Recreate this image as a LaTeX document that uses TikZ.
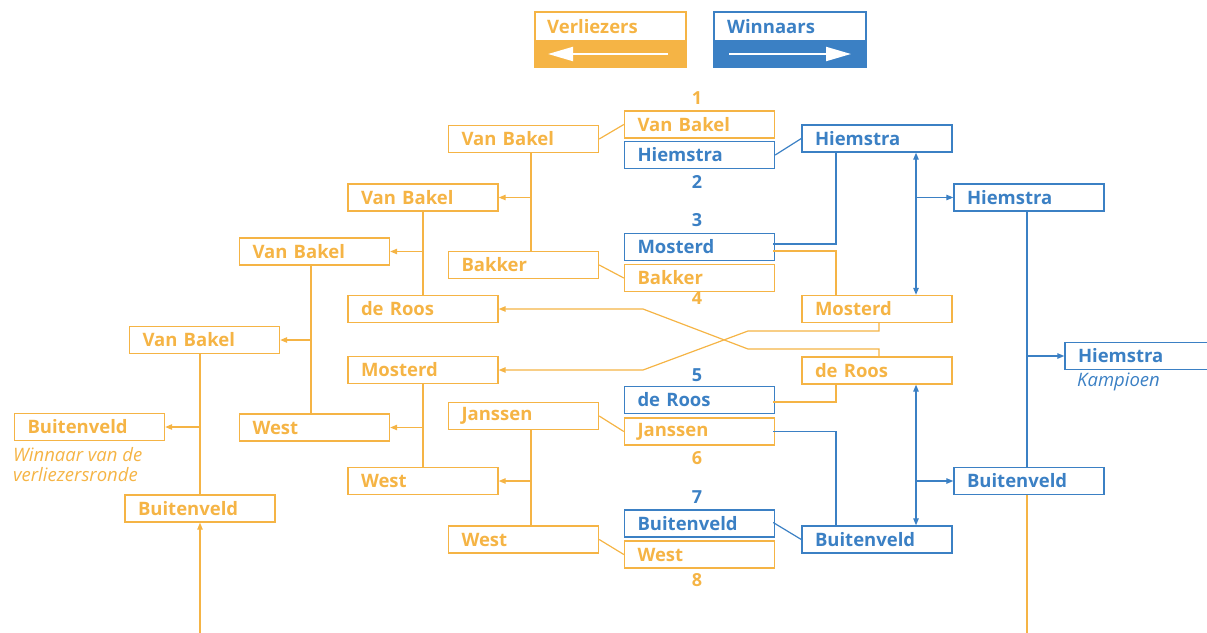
\documentclass[tikz,border=0pt]{standalone}
\usepackage{fontspec}
\setmainfont{Open Sans}
\usetikzlibrary{arrows.meta,calc}
\definecolor{lose}{HTML}{F5B445}
\definecolor{win}{HTML}{3B80C4}
\begin{document}
\begin{tikzpicture}[x=1pt,y=-1pt,
  box/.style={draw, line width=1.4pt, minimum height=27pt, text width=124pt,
    inner xsep=13pt, inner ysep=0pt, align=left,
    font=\fontsize{18.5}{21}\selectfont\bfseries},
  lbox/.style={box, draw=lose, text=lose},
  wbox/.style={box, draw=win, text=win},
  lline/.style={draw=lose, line width=1.2pt},
  wline/.style={draw=win, line width=1.2pt},
  tip/.style={-{Triangle[length=7pt,width=5.5pt]}},
  twotips/.style={{Triangle[length=7pt,width=5.5pt]}-{Triangle[length=7pt,width=5.5pt]}},
  lnum/.style={text=lose, font=\fontsize{18}{20}\selectfont\bfseries, inner sep=0pt},
  wnum/.style={text=win, font=\fontsize{18}{20}\selectfont\bfseries, inner sep=0pt},
  legtext/.style={anchor=west, inner sep=0pt, font=\fontsize{18.5}{21}\selectfont\bfseries},
  note/.style={anchor=west, align=left, inner sep=0pt, font=\fontsize{18.5}{20}\selectfont\itshape}
]
\useasboundingbox (0,0) rectangle (1207,632);

% legend
\node[draw=lose, line width=1.4pt, minimum width=151pt, minimum height=55pt, inner sep=0pt] (legL) at (610.5,39.5) {};
\fill[lose] (legL.west) rectangle (legL.south east);
\draw[lose, line width=1.4pt] (legL.north west) rectangle (legL.south east);
\node[legtext, text=lose] (legLt) at (547,27) {Verliezers};
\draw[white, line width=2pt, -{Triangle[length=25pt,width=14pt]}] (668,54) -- (548,54);

\node[draw=win, line width=1.4pt, minimum width=151pt, minimum height=55pt, inner sep=0pt] (legW) at (790,39.5) {};
\fill[win] (legW.west) rectangle (legW.south east);
\draw[win, line width=1.4pt] (legW.north west) rectangle (legW.south east);
\node[legtext, text=win] (legWt) at (727,27) {Winnaars};
\draw[white, line width=2pt, -{Triangle[length=25pt,width=14pt]}] (729,54) -- (851,54);

% first round
\node[lnum] (n1) at (697,98) {1};
\node[lbox] (cVB) at (699.5,124.5) {Van Bakel};
\node[wbox] (cHi) at (699.5,155) {Hiemstra};
\node[wnum] (n2) at (697,182) {2};
\node[wnum] (n3) at (697,220) {3};
\node[wbox] (cMo) at (699.5,247) {Mosterd};
\node[lbox] (cBa) at (699.5,278) {Bakker};
\node[lnum] (n4) at (697,298) {4};
\node[wnum] (n5) at (697,375) {5};
\node[wbox] (cdR) at (699.5,400) {de Roos};
\node[lbox] (cJa) at (699.5,431.5) {Janssen};
\node[lnum] (n6) at (697,458) {6};
\node[wnum] (n7) at (697,497) {7};
\node[wbox] (cBu) at (699.5,523.5) {Buitenveld};
\node[lbox] (cWe) at (699.5,554.5) {West};
\node[lnum] (n8) at (697,580) {8};

% losers bracket
\node[lbox] (l1VB) at (523.5,139) {Van Bakel};
\node[lbox] (l1Ba) at (523.5,265) {Bakker};
\node[lbox] (l1Ja) at (523.5,416) {Janssen};
\node[lbox] (l1We) at (523.5,539.5) {West};
\node[lbox] (l2VB) at (423,197.5) {Van Bakel};
\node[lbox] (l2dR) at (423,309) {de Roos};
\node[lbox] (l2Mo) at (423,370) {Mosterd};
\node[lbox] (l2We) at (423,481) {West};
\node[lbox] (l3VB) at (314.5,251.5) {Van Bakel};
\node[lbox] (l3We) at (314.5,427.5) {West};
\node[lbox] (l4VB) at (204.5,340) {Van Bakel};
\node[lbox] (l4Bu) at (200,508.5) {Buitenveld};
\node[lbox] (l5Bu) at (89.5,427) {Buitenveld};
\node[note, text=lose] (l5note) at (13,465) {Winnaar van de\\verliezersronde};

% winners bracket
\node[wbox] (w1Hi) at (877,138.5) {Hiemstra};
\node[lbox] (w1Mo) at (877,309) {Mosterd};
\node[lbox] (w1dR) at (877,370.5) {de Roos};
\node[wbox] (w1Bu) at (877,539.5) {Buitenveld};
\node[wbox] (w2Hi) at (1029,197.5) {Hiemstra};
\node[wbox] (w2Bu) at (1029,481) {Buitenveld};
\node[wbox] (champ) at (1140,356) {Hiemstra};
\node[note, text=win] (kamp) at (1077,382) {Kampioen};

% vertical feeder lines
\coordinate (busL1) at (531,0);
\coordinate (busL2) at (423,0);
\coordinate (busL3) at (311,0);
\coordinate (busL4) at (200,0);
\coordinate (busW1) at (836,0);
\coordinate (busW1b) at (916,0);
\coordinate (busW2) at (1027,0);
\coordinate (xA) at (643,0);
\coordinate (xB) at (748,0);
\coordinate (kd) at (879,349);
\coordinate (km) at (879,331);
\coordinate (entryL) at (200,640);
\coordinate (exitW) at (1027,640);

% losers' connectors
\draw[lline] (cVB.west) -- (l1VB.east);
\draw[lline] (cBa.west) -- (l1Ba.east);
\draw[lline] (cJa.west) -- (l1Ja.east);
\draw[lline] (cWe.west) -- (l1We.east);
\draw[lline] (l1VB.south -| busL1) -- (l1Ba.north -| busL1);
\draw[lline,tip] (l2VB.east -| busL1) -- (l2VB.east);
\draw[lline] (l1Ja.south -| busL1) -- (l1We.north -| busL1);
\draw[lline,tip] (l2We.east -| busL1) -- (l2We.east);
\draw[lline] (l2VB.south -| busL2) -- (l2dR.north -| busL2);
\draw[lline,tip] (l3VB.east -| busL2) -- (l3VB.east);
\draw[lline] (l2Mo.south -| busL2) -- (l2We.north -| busL2);
\draw[lline,tip] (l3We.east -| busL2) -- (l3We.east);
\draw[lline] (l3VB.south -| busL3) -- (l3We.north -| busL3);
\draw[lline,tip] (l4VB.east -| busL3) -- (l4VB.east);
\draw[lline] (l4VB.south -| busL4) -- (l4Bu.north -| busL4);
\draw[lline,tip] (l5Bu.east -| busL4) -- (l5Bu.east);
\draw[lline,tip] (entryL) -- (l4Bu.south -| busL4);
\draw[lline] (w2Bu.south -| busW2) -- (exitW);
\draw[lline] ($(cMo.east)+(-2,4)$) -| (w1Mo.north -| busW1);
\draw[lline] ($(cdR.east)+(-2,2)$) -| (w1dR.south -| busW1);
\draw[lline,tip] (w1dR.north -| kd) -- (kd) -- (kd -| xB) -- (l2dR.east -| xA) -- (l2dR.east);
\draw[lline,tip] (w1Mo.south -| km) -- (km) -- (km -| xB) -- (l2Mo.east -| xA) -- (l2Mo.east);

% winners' connectors
\draw[wline] (cHi.east) -- (w1Hi.west);
\draw[wline] ($(cMo.east)+(-2,-3)$) -| (w1Hi.south -| busW1);
\draw[wline] ($(cJa.east)+(-2,0)$) -| (w1Bu.north -| busW1);
\draw[wline] ($(cBu.east)+(-2,-1)$) -- (w1Bu.west);
\draw[wline,twotips] (w1Hi.south -| busW1b) -- (w1Mo.north -| busW1b);
\draw[wline,tip] (w2Hi.west -| busW1b) -- (w2Hi.west);
\draw[wline,twotips] (w1dR.south -| busW1b) -- (w1Bu.north -| busW1b);
\draw[wline,tip] (w2Bu.west -| busW1b) -- (w2Bu.west);
\draw[wline] (w2Hi.south -| busW2) -- (w2Bu.north -| busW2);
\draw[wline,tip] (champ.west -| busW2) -- (champ.west);
\end{tikzpicture}
\end{document}
